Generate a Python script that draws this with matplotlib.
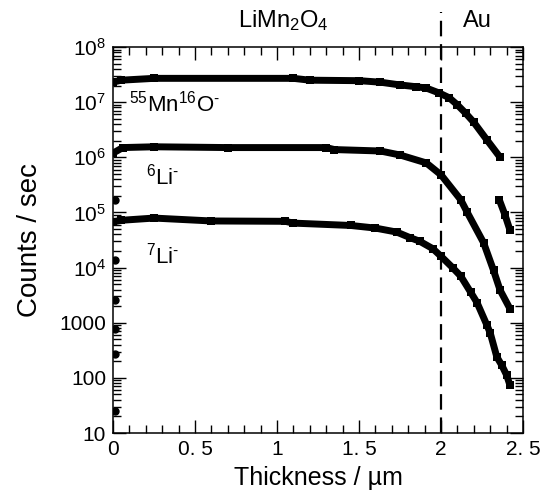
import numpy as np
import matplotlib
matplotlib.use('Agg')
import matplotlib.pyplot as plt
from matplotlib.ticker import FixedLocator, FuncFormatter, MultipleLocator, LogLocator, NullFormatter

plt.rcParams['font.family'] = ['Liberation Sans', 'DejaVu Sans']
plt.rcParams['mathtext.fontset'] = 'custom'
plt.rcParams['mathtext.rm'] = 'Liberation Sans'
plt.rcParams['mathtext.it'] = 'Liberation Sans:italic'

# 55Mn16O- profile
mn_x = [0.0, 0.05, 0.25, 1.1, 1.2, 1.5, 1.63, 1.75, 1.85, 1.91, 1.99, 2.05, 2.1, 2.15, 2.2, 2.28, 2.36]
mn_y = [2.3e7, 2.5e7, 2.7e7, 2.7e7, 2.5e7, 2.45e7, 2.3e7, 2.05e7, 1.9e7, 1.8e7, 1.46e7, 1.2e7, 8.9e6, 6.3e6, 4.3e6, 2.06e6, 1.0e6]
# short piece right of the Mn curve
tail_x = [2.355, 2.39, 2.42]
tail_y = [1.7e5, 9.0e4, 4.8e4]
# 6Li-
li6_x = [0.0, 0.06, 0.25, 0.7, 1.3, 1.35, 1.63, 1.75, 1.91, 2.0, 2.12, 2.16, 2.26, 2.32, 2.36, 2.42]
li6_y = [1.19e6, 1.5e6, 1.55e6, 1.5e6, 1.5e6, 1.38e6, 1.3e6, 1.1e6, 7.9e5, 4.8e5, 1.7e5, 1.0e5, 2.8e4, 8.9e3, 3.9e3, 1.8e3]
# 7Li-
li7_x = [0.0, 0.05, 0.25, 0.6, 1.05, 1.1, 1.45, 1.6, 1.73, 1.81, 1.87, 1.95, 2.0, 2.07, 2.12, 2.18, 2.22, 2.28, 2.30, 2.34, 2.37, 2.40, 2.42]
li7_y = [6.7e4, 7.2e4, 7.9e4, 7.0e4, 6.9e4, 6.4e4, 5.8e4, 5.2e4, 4.4e4, 3.5e4, 3.0e4, 2.2e4, 1.6e4, 1.0e4, 7.0e3, 3.6e3, 2.3e3, 9.0e2, 6.5e2, 2.4e2, 1.7e2, 1.12e2, 74]
# isolated points at the surface
surf_x = [0.01, 0.01, 0.01, 0.01, 0.01, 0.01]
surf_y = [1.7e5, 1.35e4, 2.6e3, 7.6e2, 2.7e2, 25]

x_ticks = [0, 0.5, 1, 1.5, 2, 2.5]
x_labels = ['0', '0. 5', '1', '1. 5', '2', '2. 5']
interface = 2.0

fig = plt.figure(figsize=(5.47, 4.91), dpi=100)
ax = fig.add_axes([0.2066, 0.1181, 0.7496, 0.7862])

for xs, ys in [(mn_x, mn_y), (tail_x, tail_y), (li6_x, li6_y), (li7_x, li7_y)]:
    ax.plot(xs, ys, color='black', lw=5, solid_capstyle='butt', solid_joinstyle='round',
            marker='s', ms=5.5, mew=0)
ax.plot(surf_x, surf_y, 'o', color='black', ms=5)

ax.plot([interface, interface], [10, 4.3e8], color='black', lw=1.6,
        dashes=(7, 3.5), clip_on=False)

ax.set_yscale('log')
ax.set_xlim(0, 2.5)
ax.set_ylim(10, 1e8)

ax.xaxis.set_major_locator(FixedLocator(x_ticks))
ax.set_xticklabels(x_labels)
ax.xaxis.set_minor_locator(MultipleLocator(0.1))

def yfmt(v, pos):
    e = int(round(np.log10(v)))
    if e <= 3:
        return '%d' % int(round(v))
    return r'$10^{%d}$' % e
ax.yaxis.set_major_locator(LogLocator(base=10, numticks=20))
ax.yaxis.set_major_formatter(FuncFormatter(yfmt))
ax.yaxis.set_minor_locator(LogLocator(base=10, subs=np.arange(2, 10), numticks=20))
ax.yaxis.set_minor_formatter(NullFormatter())

ax.tick_params(which='both', direction='in', top=True, right=True, labelsize=15, width=1)
ax.tick_params(which='major', length=9.5, pad=5)
ax.tick_params(which='minor', length=5.5)
for s in ax.spines.values():
    s.set_linewidth(1.1)

ax.set_xlabel('Thickness / µm', fontsize=18, labelpad=5)
ax.set_ylabel('Counts / sec', fontsize=20, labelpad=12)

ax.text(1.04, 1.068, r'LiMn$_2$O$_4$', transform=ax.get_xaxis_transform(),
        ha='center', va='center', fontsize=17)
ax.text(2.22, 1.068, 'Au', transform=ax.get_xaxis_transform(),
        ha='center', va='center', fontsize=17)

ax.text(0.1, 9.6e6, r'$^{55}$Mn$^{16}$O$^{\text{-}}$', fontsize=16, va='center')
ax.text(0.2, 4.4e5, r'$^{6}$Li$^{\text{-}}$', fontsize=16, va='center')
ax.text(0.2, 1.66e4, r'$^{7}$Li$^{\text{-}}$', fontsize=16, va='center')

fig.savefig('out.png', dpi=100)
